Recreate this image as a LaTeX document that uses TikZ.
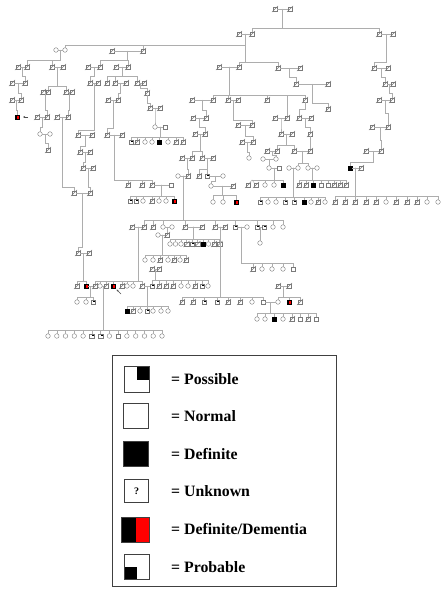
\documentclass[tikz,border=0pt]{standalone}
\usepackage{fontspec}
\setmainfont{Liberation Serif}
\usetikzlibrary{calc,arrows.meta}
\definecolor{linec}{gray}{0.68}
\definecolor{symc}{gray}{0.48}
\tikzset{
  ln/.style={draw=linec, line width=0.42pt},
  ind/.style={draw=symc, line width=0.38pt, fill=white, inner sep=0pt, outer sep=0pt, minimum size=4.6pt},
  sqN/.style={ind, rectangle},
  ciN/.style={ind, circle},
  slashln/.style={draw=symc, line width=0.38pt, shorten <=-1pt, shorten >=-1pt},
  sqD/.style={sqN, append after command={(\tikzlastnode.south west) edge[slashln] (\tikzlastnode.north east)}},
  sqF/.style={sqN, fill=black, draw=black},
  sqP/.style={sqN, path picture={\fill[black] (path picture bounding box.center) rectangle (path picture bounding box.north east);}},
  sqR/.style={sqN, draw=black, path picture={\fill[black] (path picture bounding box.south west) rectangle (path picture bounding box.north); \fill[red] (path picture bounding box.south) rectangle (path picture bounding box.north east);}},
  keybox/.style={draw=black!75, line width=0.9pt, inner sep=0pt, minimum width=24.5pt, minimum height=24.5pt, fill=white},
  keytxt/.style={anchor=base west, font=\fontsize{15.8}{18}\selectfont\bfseries, inner sep=0pt},
  pointer/.style={draw=black!70, line width=0.5pt, -{Stealth[length=2.2pt,width=2pt]}},
}
% marriage line between two partners, with a named midpoint for the descent
\newcommand\couple[3]{\draw[ln] (#2) -- (#3); \coordinate (#1) at ($(#2)!0.5!(#3)$);}
% descent line from a couple (or person) to a sibship bar at height #2
\newcommand\kids[3]{\foreach \kd in {#3}{\draw[ln] (#1) |- (\kd |- 0,#2) -- (\kd);}}
\begin{document}
\begin{tikzpicture}[x=1pt,y=-1pt]
\useasboundingbox (0,0) rectangle (442,593);
\fill[white] (0,0) rectangle (442,593);

% ---------------- individuals ----------------
% founders and second generation
\node[sqD] (t1) at (275,9) {}; \node[sqD] (t2) at (290,9) {};
\node[sqD] (a1) at (239,34) {}; \node[sqD] (a2) at (252,34) {};
\node[sqD] (b1) at (379,34) {}; \node[sqD] (b2) at (393,34) {};
% third generation
\node[ciN] (c1) at (56,50) {}; \node[ciN] (c2) at (65,50) {};
\node[sqD] (d1) at (112,51) {}; \node[sqD] (d2) at (143,51) {};
\node[sqD] (e1) at (219,67) {}; \node[sqD] (e2) at (239,67) {};
\node[sqD] (f1) at (278,68) {}; \node[sqD] (f2) at (300,68) {};
\node[sqD] (g1) at (374,68) {}; \node[sqD] (g2) at (388,68) {};
% left branches
\node[sqD] (h1) at (18,67) {}; \node[sqD] (h2) at (27,67) {};
\node[sqD] (i1) at (52,67) {}; \node[sqD] (i2) at (63,67) {};
\node[sqD] (j1) at (88,67) {}; \node[sqD] (j2) at (100,67) {};
\node[sqD] (k1) at (116,67) {}; \node[sqD] (k2) at (128,67) {};
\node[sqD] (h3) at (12,83) {}; \node[sqD] (h4) at (25,83) {};
\node[sqD] (h5) at (12,100) {}; \node[sqD] (h6) at (21,100) {};
\node[sqR] (h7) at (17,117) {}; \coordinate (h7p) at (28,117);
\node[sqD] (i3) at (43,92) {}; \node[sqD] (i4) at (48,92) {};
\node[sqD] (i5) at (66,92) {}; \node[sqD] (i6) at (72,92) {};
\node[sqD] (i7) at (37,117) {}; \node[sqD] (i8) at (47,117) {};
\node[sqD] (i9) at (57,117) {}; \node[sqD] (i10) at (68,117) {};
\node[ciN] (i11) at (40,134) {}; \node[ciN] (i12) at (50,134) {};
\node[sqD] (i13) at (48,150) {};
\node[sqD] (i14) at (74,193) {};
\node[sqD] (j3) at (90,83) {}; \node[sqD] (j4) at (98,83) {};
\node[sqD] (j5) at (78,135) {}; \node[sqD] (j6) at (92,135) {};
\node[sqD] (j7) at (80,152) {}; \node[sqD] (j8) at (90,152) {};
\node[sqD] (j9) at (83,168) {}; \node[sqD] (j10) at (93,168) {};
\node[sqD] (j11) at (90,193) {};
\node[sqD] (n1) at (78,253) {}; \node[sqD] (n2) at (89,253) {};
\node[sqD] (n3) at (77,286) {}; \node[sqR] (n4) at (86,286) {};
\node[sqD] (k3) at (107,83) {}; \node[sqD] (k4) at (115,83) {};
\node[sqD] (k5) at (126,83) {}; \node[sqD] (k6) at (137,83) {};
\node[sqD] (k7) at (144,83) {};
\node[sqD] (k8) at (108,100) {}; \node[sqD] (k9) at (118,100) {};
\node[sqD] (k10) at (107,135) {}; \node[sqD] (k11) at (122,135) {};
\node[sqD] (k12) at (128,185) {}; \node[sqD] (k13) at (142,185) {};
\node[sqD] (k14) at (152,185) {}; \node[sqN] (k15) at (171,185) {};
\node[sqP] (q1) at (130,201) {}; \node[sqP] (q2) at (136,201) {};
\node[ciN] (q3) at (143,201) {}; \node[sqD] (q4) at (152,201) {};
\node[ciN] (q5) at (159,201) {}; \node[ciN] (q6) at (166,201) {};
\node[sqR] (q7) at (174,201) {};
\node[sqD] (k16) at (147,93) {};
\node[sqD] (k17) at (150,108) {}; \node[sqD] (k18) at (160,108) {};
\node[ciN] (k19) at (155,127) {}; \node[sqN] (k20) at (165,127) {};
\node[sqP] (y1) at (131,142) {}; \node[sqD] (y2) at (137,142) {};
\node[ciN] (y3) at (145,142) {}; \node[ciN] (y4) at (152,142) {};
\node[sqF] (y5) at (159,142) {}; \node[ciN] (y6) at (168,142) {};
\node[sqD] (y7) at (176,142) {}; \node[sqD] (y8) at (183,142) {};
% middle branches
\node[sqD] (l1) at (192,100) {}; \node[sqD] (l2) at (213,100) {};
\node[sqD] (m1) at (228,100) {}; \node[sqD] (m2) at (238,100) {};
\node[sqD] (n0) at (267,100) {};
\node[sqD] (o1) at (275,118) {}; \node[sqD] (o2) at (287,118) {};
\node[sqD] (r0) at (305,100) {};
\node[sqD] (l3) at (193,118) {}; \node[sqD] (l4) at (206,118) {};
\node[sqD] (l5) at (195,134) {}; \node[sqD] (l6) at (205,134) {};
\node[sqD] (l7) at (182,158) {}; \node[sqD] (l8) at (192,158) {};
\node[sqD] (l9) at (202,158) {}; \node[sqD] (l10) at (213,158) {};
\node[ciN] (l11) at (178,176) {}; \node[sqD] (l12) at (188,176) {};
\node[sqD] (l13) at (199,176) {}; \node[sqP] (l14) at (207,176) {};
\node[ciN] (l15) at (223,176) {};
\node[ciN] (l16) at (211,186) {}; \node[sqD] (l17) at (233,186) {};
\node[ciN] (l18) at (213,202) {}; \node[ciN] (l19) at (223,202) {};
\node[sqR] (l20) at (236,202) {};
\node[sqD] (m3) at (238,125) {}; \node[sqD] (m4) at (252,125) {};
\node[sqD] (m5) at (242,142) {}; \node[sqD] (m6) at (253,142) {};
\node[ciN] (m7) at (249,158) {};
\node[sqD] (p1) at (296,84) {}; \node[sqD] (p2) at (328,84) {};
\node[sqD] (pq) at (328,109) {};
\node[sqD] (o3) at (281,134) {}; \node[sqD] (o4) at (292,134) {};
\node[sqD] (o5) at (267,151) {}; \node[sqD] (o6) at (277,151) {};
\node[sqD] (o7) at (294,151) {};
\node[ciN] (o8) at (263,159) {}; \node[ciN] (o9) at (276,159) {};
\node[ciN] (o10) at (269,168) {}; \node[sqN] (o11) at (279,168) {};
\node[sqD] (o12) at (248,185) {}; \node[sqD] (o13) at (256,185) {};
\node[ciN] (o14) at (265,185) {}; \node[ciN] (o15) at (274,185) {};
\node[sqF] (o16) at (283,185) {};
\node[sqD] (r2) at (299,118) {}; \node[sqD] (r3) at (311,118) {};
\node[sqD] (r5) at (310,134) {}; \node[sqD] (r4) at (310,151) {};
\node[ciN] (ro) at (289,168) {}; \node[ciN] (r6) at (298,168) {};
\node[ciN] (r7) at (308,168) {}; \node[ciN] (r8) at (317,168) {};
\node[sqD] (z1) at (299,185) {}; \node[sqD] (z2) at (306,185) {};
\node[sqF] (z3) at (313,185) {}; \node[sqN] (z4) at (321,185) {};
\node[sqN] (z5) at (328,185) {}; \node[sqD] (z6) at (334,185) {};
\node[sqD] (z7) at (340,185) {}; \node[sqD] (z8) at (346,185) {};
\node[sqP] (v1) at (260,202) {}; \node[ciN] (v2) at (268,202) {};
\node[ciN] (v3) at (276,202) {}; \node[sqP] (v4) at (285,202) {};
\node[sqP] (v5) at (294,202) {}; \node[sqF] (v6) at (304,202) {};
\node[ciN] (v7) at (311,202) {}; \node[sqD] (v8) at (318,202) {};
\node[ciN] (v9) at (325,202) {};
% right branch
\node[sqD] (g3) at (385,84) {}; \node[sqD] (g4) at (393,84) {};
\node[sqD] (g5) at (379,100) {}; \node[sqD] (g6) at (392,100) {};
\node[sqD] (g7) at (372,127) {}; \node[sqD] (g8) at (388,127) {};
\node[sqD] (g9) at (366,151) {}; \node[sqD] (g10) at (381,151) {};
\node[sqF] (g11) at (350,168) {}; \node[sqD] (g12) at (361,168) {};
\foreach \nm/\xx/\st in {x1/335/sqD, x2/345/sqD, x3/355/sqD, x4/366/sqD, x5/376/sqD, x6/386/ciN, x7/396/sqD, x8/407/sqD, x9/417/sqD, x10/427/ciN, x11/438/ciN}
  {\node[\st] (\nm) at (\xx,202) {};}
% large sibship and descendants
\node[sqD] (bs1) at (132,227) {}; \node[sqD] (bs2) at (144,227) {};
\node[sqD] (bs3) at (153,227) {}; \node[ciN] (bs4) at (163,227) {};
\node[ciN] (bs5) at (172,227) {}; \node[sqD] (bs6) at (185,227) {};
\node[sqD] (bs7) at (202,227) {}; \node[sqD] (bs8) at (215,227) {};
\node[sqD] (bs9) at (225,227) {}; \node[sqP] (bs10) at (235,227) {};
\node[ciN] (bs11) at (247,227) {}; \node[sqP] (bs12) at (257,227) {};
\node[sqP] (bs13) at (264,227) {}; \node[ciN] (bs14) at (273,227) {};
\node[ciN] (bs15) at (283,227) {};
\node[ciN] (bs17) at (158,235) {}; \node[sqD] (bs16) at (167,235) {};
\foreach \nm/\xx/\st in {ee1/145/ciN, ee2/153/ciN, ee3/160/sqD, ee4/168/ciN, ee5/174/sqD, ee6/180/ciN, ee7/186/sqD}
  {\node[\st] (\nm) at (\xx,260) {};}
\foreach \nm/\xx/\st in {ff1/170/ciN, ff2/175.5/ciN, ff3/181/ciN, ff4/186.5/sqD, ff5/192/sqP, ff6/197.5/sqD, ff7/203/sqF, ff8/208.5/ciN, ff9/214/sqD, ff10/219.5/sqD}
  {\node[\st] (\nm) at (\xx,244) {};}
\foreach \nm/\xx/\st in {gg1/182/sqD, gg2/193/sqD, gg3/204/sqP, gg4/217/sqP, gg5/228/sqD, gg6/240/sqD, gg7/252/ciN, gg8/263/sqN}
  {\node[\st] (\nm) at (\xx,302) {};}
\node[ciN] (hh0) at (260,243) {};
\foreach \nm/\xx/\st in {hh1/253/sqD, hh2/262/ciN, hh3/272/ciN, hh4/283/ciN, hh5/293/sqN}
  {\node[\st] (\nm) at (\xx,269) {};}
\foreach \nm/\xx/\st in {p3/95/sqD, p4/100/ciN, p5/106/sqD, p6/113/sqR, p7/122/sqD, p8/127/ciN, p9/133/ciN, p10/142/sqD}
  {\node[\st] (\nm) at (\xx,286) {};}
\coordinate (p6p) at (121,294);
\foreach \nm/\xx/\st in {nn1/77/ciN, nn2/86/ciN, nn3/93/sqP}
  {\node[\st] (\nm) at (\xx,302) {};}
\foreach \nm/\xx/\st in {bb1/48/ciN, bb2/56.8/ciN, bb3/65.5/ciN, bb4/74.3/ciN, bb5/83.1/ciN, bb6/91.8/sqP, bb7/100.6/sqP, bb8/109.4/ciN, bb9/118.2/sqN, bb10/126.9/ciN, bb11/135.7/ciN, bb12/144.5/ciN, bb13/153.2/ciN, bb14/162/ciN}
  {\node[\st] (\nm) at (\xx,336) {};}
\node[sqD] (u1) at (152,269) {}; \node[sqD] (u2) at (159,269) {};
\foreach \nm/\xx/\st in {s1/152/sqP, s2/159/sqD, s3/166/sqD, s4/173/sqD, s5/181/ciN, s6/188/ciN, s7/195/sqD, s8/202/sqP, s9/208/ciN}
  {\node[\st] (\nm) at (\xx,286) {};}
\foreach \nm/\xx/\st in {tt1/127/sqF, tt2/133/sqD, tt3/140/ciN, tt4/147/sqP, tt5/153/ciN, tt6/161/ciN, tt7/168/ciN}
  {\node[\st] (\nm) at (\xx,311) {};}
\node[sqD] (w1) at (278,286) {}; \node[sqD] (w2) at (289,286) {};
\node[ciN] (w3) at (278,302) {}; \node[sqR] (w4) at (289,302) {};
\node[sqD] (w5) at (300,302) {};
\foreach \nm/\xx/\st in {xx1/257/ciN, xx2/265/ciN, xx3/274/sqF, xx4/283/ciN, xx5/292/sqD, xx6/300/sqN, xx7/308/sqD, xx8/316/sqN}
  {\node[\st] (\nm) at (\xx,319) {};}

% ---------------- connections ----------------
\couple{CT}{t1}{t2}
\kids{CT}{28.5}{a2,b1}
\couple{CA}{a1}{a2} \couple{CB}{b1}{b2}
\kids{CA}{45}{c2,d2}
\kids{CA}{62}{e2,f1}
\kids{CB}{62}{g1}
\couple{CC}{c1}{c2} \couple{CD}{d1}{d2}
\couple{CE}{e1}{e2} \couple{CF}{f1}{f2} \couple{CG}{g1}{g2}
\kids{CC}{60}{h2,i1}
\kids{CD}{60}{j2,k2}
\couple{CH}{h1}{h2} \couple{CI}{i1}{i2} \couple{CJ}{j1}{j2} \couple{CK}{k1}{k2}
% far left line
\kids{CH}{76}{h4} \couple{CH34}{h3}{h4}
\kids{CH34}{93}{h6} \couple{CH56}{h5}{h6}
\kids{CH56}{110}{h7}
\draw[pointer] (h7p) -- ++(-5,0);
% second left line
\kids{CI}{86}{i4,i5}
\couple{CI34}{i3}{i4} \couple{CI56}{i5}{i6}
\kids{CI34}{110}{i8} \kids{CI56}{110}{i10}
\couple{CI78}{i7}{i8} \couple{CI910}{i9}{i10}
\kids{CI78}{127}{i11} \couple{CI1112}{i11}{i12}
\kids{CI1112}{143}{i13}
\kids{CI910}{187}{i14}
\kids{CJ}{76}{j3} \couple{CJ34}{j3}{j4}
\kids{CJ34}{130}{j5} \couple{CJ56}{j5}{j6}
\kids{CJ56}{146}{j7} \couple{CJ78}{j7}{j8}
\kids{CJ78}{162}{j9} \couple{CJ910}{j9}{j10}
\kids{CJ910}{187}{j11}
\couple{CIJ}{i14}{j11}
\kids{CIJ}{247}{n1} \couple{CN}{n1}{n2}
\kids{CN}{281}{n3,n4}
% k line
\kids{CK}{76}{k3,k4,k6}
\couple{CK45}{k4}{k5} \couple{CK67}{k6}{k7}
\kids{CK45}{93}{k9} \couple{CK89}{k8}{k9}
\kids{CK89}{128}{k10} \couple{CK1011}{k10}{k11}
\kids{CK1011}{180}{k12,k13,k14} \couple{CK1415}{k14}{k15}
\kids{CK1415}{196}{q1,q2,q3,q4,q5,q6,q7}
\kids{CK67}{88.5}{k16}
\kids{k16}{103}{k17} \couple{CK1718}{k17}{k18}
\kids{CK1718}{121}{k19} \couple{CK1920}{k19}{k20}
\kids{CK1920}{137.5}{y1,y2,y3,y4,y5,y6,y7,y8}
% middle lines
\kids{CE}{95}{l2,m1,n0,o2,r0}
\couple{CL}{l1}{l2} \couple{CM}{m1}{m2} \couple{CO}{o1}{o2}
\kids{CL}{110}{l4} \couple{CL34}{l3}{l4}
\kids{CL34}{127}{l6} \couple{CL56}{l5}{l6}
\kids{CL56}{151}{l8,l9}
\couple{CL78}{l7}{l8} \couple{CL910}{l9}{l10}
\kids{CL78}{169}{l12} \kids{CL910}{169}{l13,l14}
\couple{CL1112}{l11}{l12} \couple{CL1415}{l14}{l15}
\kids{CL1415}{181}{l16} \couple{CL1617}{l16}{l17}
\kids{CL1617}{195.5}{l18,l19,l20}
\kids{CM}{120}{m4} \couple{CM34}{m3}{m4}
\kids{CM34}{136}{m6} \couple{CM56}{m5}{m6}
\kids{CM56}{152}{m7}
\kids{CF}{77}{p1} \couple{CP}{p1}{p2}
\kids{CP}{103}{pq}
\kids{CO}{127}{o3} \couple{CO34}{o3}{o4}
\kids{CO34}{145.5}{o6,o7}
\couple{CO56}{o5}{o6}
\kids{CO56}{155}{o9} \couple{CO89}{o8}{o9}
\kids{CO89}{164}{o10} \couple{CO1011}{o10}{o11}
\coordinate (tw) at (252,180);
\draw[ln] (CO1011) |- (tw);
\draw[ln] (tw) -- (o12); \draw[ln] (tw) -- (o13);
\kids{CO1011}{180}{o14,o15,o16}
\kids{r0}{109}{r2} \couple{CR23}{r2}{r3}
\kids{CR23}{127}{r5}
\draw[ln] (r5) -- (r4);
\couple{CR4}{o7}{r4}
\kids{CR4}{163}{r6,r7}
\couple{CRo6}{ro}{r6} \couple{CR78}{r7}{r8}
\kids{CRo6}{197}{v1,v2,v3,v4,v5,v6,v7,v8,v9}
\kids{CR78}{180}{z1,z2,z3,z4,z5,z6,z7,z8}
% right line
\kids{CG}{77}{g3} \couple{CG34}{g3}{g4}
\kids{CG34}{93}{g6} \couple{CG56}{g5}{g6}
\kids{CG56}{113}{g8} \couple{CG78}{g7}{g8}
\kids{CG78}{140}{g10} \couple{CG910}{g9}{g10}
\kids{CG910}{162}{g11} \couple{CG1112}{g11}{g12}
\kids{CG1112}{196}{x1,x2,x3,x4,x5,x6,x7,x8,x9,x10,x11}
% large sibship
\kids{CL1112}{220}{bs2,bs3,bs4,bs6,bs8,bs10,bs12,bs14,bs15}
\couple{CS12}{bs1}{bs2} \couple{CS45}{bs4}{bs5} \couple{CS67}{bs6}{bs7}
\couple{CS89}{bs8}{bs9} \couple{CS1011}{bs10}{bs11} \couple{CS1213}{bs12}{bs13}
\kids{CS45}{231}{bs16} \couple{CS1617}{bs17}{bs16}
\kids{CS1617}{255}{ee1,ee2,ee3,ee4,ee5,ee6,ee7}
\kids{CS67}{239.5}{ff1,ff2,ff3,ff4,ff5,ff6,ff7,ff8,ff9,ff10}
\kids{CS89}{297}{gg1,gg2,gg3,gg4,gg5,gg6,gg7,gg8}
\kids{CS1011}{263}{hh1,hh2,hh3,hh4,hh5}
\kids{CS1213}{236}{hh0}
\kids{CS12}{281}{p3,p4,p5,p6,p7,p8,p9,p10}
\draw[pointer] (p6p) -- ++(-4.5,-4.5);
\couple{CNP}{n4}{p3}
\kids{CNP}{297}{nn1,nn2,nn3}
\couple{CP45}{p4}{p5}
\kids{CP45}{330}{bb1,bb2,bb3,bb4,bb5,bb6,bb7,bb8,bb9,bb10,bb11,bb12,bb13,bb14}
\couple{CU}{u1}{u2}
\kids{CU}{280}{s1,s2,s3,s4,s5,s6,s7,s8,s9}
\couple{CPS}{p10}{s1}
\kids{CPS}{306}{tt1,tt2,tt3,tt4,tt5,tt6,tt7}
\couple{CW}{w1}{w2}
\kids{CW}{297}{w3,w4,w5}
\couple{CGW}{gg8}{w3}
\kids{CGW}{313}{xx1,xx2,xx3,xx4,xx5,xx6,xx7,xx8}

% ---------------- key ----------------
\draw[black!75, line width=0.9pt] (112,355) rectangle (336,586);
\node[keybox, minimum width=25.5pt, minimum height=25.5pt,
  path picture={\fill[black] (path picture bounding box.center) rectangle (path picture bounding box.north east);}] (kpos) at (137,379.5) {};
\node[keybox] (knorm) at (136,416) {};
\node[keybox, fill=black] (kdef) at (136,454) {};
\node[keybox, minimum width=23.5pt, minimum height=23.5pt, font=\fontsize{10}{12}\selectfont\bfseries] (kunk) at (136.5,491) {?};
\node[keybox, minimum width=28.5pt, minimum height=25pt,
  path picture={\fill[black] (path picture bounding box.south west) rectangle (path picture bounding box.north); \fill[red] (path picture bounding box.south) rectangle (path picture bounding box.north east);}] (kdem) at (135.5,529.5) {};
\node[keybox, minimum width=25.5pt, minimum height=25.5pt,
  path picture={\fill[black] (path picture bounding box.south west) rectangle (path picture bounding box.center);}] (kprob) at (137,567) {};
\node[keytxt] (tpos) at (171,384.8) {= Possible};
\node[keytxt] (tnorm) at (171,421.3) {= Normal};
\node[keytxt] (tdef) at (171,459.3) {= Definite};
\node[keytxt] (tunk) at (171,496.3) {= Unknown};
\node[keytxt] (tdem) at (171,534.8) {= Definite/Dementia};
\node[keytxt] (tprob) at (171,572.3) {= Probable};
\end{tikzpicture}
\end{document}
